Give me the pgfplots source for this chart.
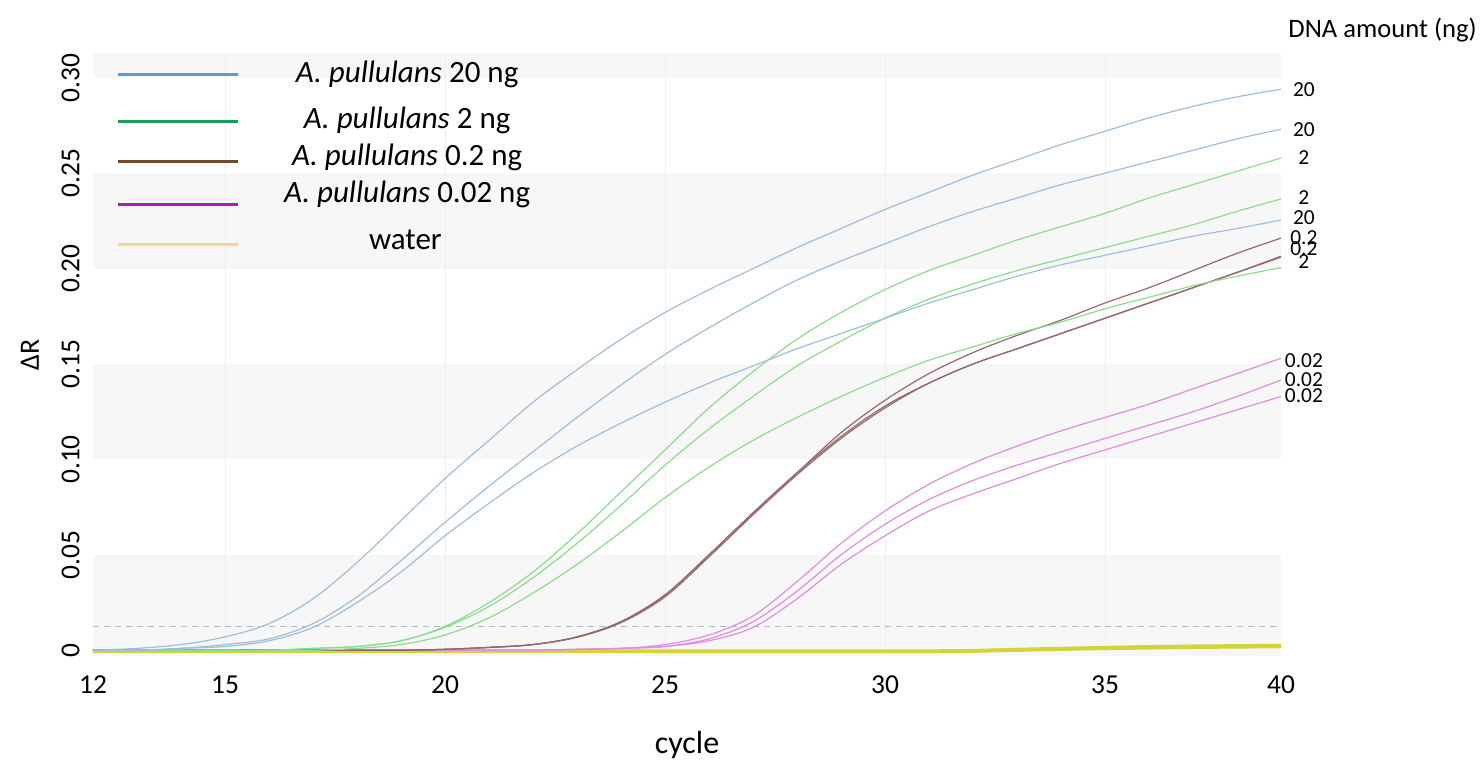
\documentclass[border=0pt]{standalone}
\usepackage{fontspec}
\setmainfont{Carlito}
\usepackage{pgfplots}
\usepackage{pgfplotstable}
\pgfplotsset{compat=1.18}

% qPCR amplification curves, Delta R per cycle, three replicates per DNA amount
\pgfplotstableread{
cycle r1 r2 r3
12 0.000 0.000 0.000
13 0.001 0.000 0.000
14 0.003 0.001 0.001
15 0.007 0.003 0.002
16 0.014 0.006 0.005
17 0.027 0.014 0.012
18 0.046 0.028 0.025
19 0.068 0.047 0.041
20 0.090 0.067 0.060
21 0.110 0.086 0.077
22 0.130 0.104 0.093
23 0.147 0.122 0.107
24 0.163 0.139 0.119
25 0.177 0.155 0.130
26 0.189 0.169 0.140
27 0.200 0.182 0.149
28 0.211 0.194 0.158
29 0.221 0.204 0.166
30 0.231 0.213 0.174
31 0.240 0.222 0.182
32 0.249 0.230 0.189
33 0.257 0.237 0.196
34 0.265 0.244 0.202
35 0.272 0.250 0.207
36 0.279 0.256 0.212
37 0.285 0.262 0.217
38 0.290 0.268 0.221
39 0.294 0.273 0.2255
}\twentyng

\pgfplotstableread{
cycle r1 r2 r3
12 0.000 0.000 0.000
13 0.000 0.000 0.000
14 0.000 0.000 0.000
15 0.000 0.000 0.000
16 0.000 0.000 0.000
17 0.001 0.001 0.000
18 0.002 0.002 0.001
19 0.005 0.005 0.003
20 0.0125 0.012 0.008
21 0.025 0.023 0.017
22 0.041 0.038 0.030
23 0.061 0.056 0.045
24 0.083 0.076 0.062
25 0.105 0.097 0.080
26 0.127 0.116 0.096
27 0.146 0.133 0.110
28 0.163 0.149 0.122
29 0.177 0.162 0.133
30 0.189 0.174 0.143
31 0.199 0.184 0.152
32 0.207 0.192 0.159
33 0.215 0.199 0.166
34 0.222 0.205 0.172
35 0.229 0.211 0.179
36 0.237 0.217 0.185
37 0.244 0.223 0.191
38 0.251 0.230 0.196
39 0.258 0.2365 0.2005
}\twong

\pgfplotstableread{
cycle r1 r2 r3
12 0.000 0.000 0.000
13 0.000 0.000 0.000
14 0.000 0.000 0.000
15 0.000 0.000 0.000
16 0.000 0.000 0.000
17 0.000 0.000 0.000
18 0.000 0.000 0.000
19 0.000 0.000 0.000
20 0.0005 0.0005 0.0005
21 0.0015 0.0015 0.0015
22 0.003 0.003 0.003
23 0.007 0.007 0.0068
24 0.015 0.015 0.0145
25 0.029 0.029 0.028
26 0.050 0.050 0.049
27 0.072 0.072 0.071
28 0.093 0.093 0.092
29 0.114 0.112 0.111
30 0.131 0.128 0.127
31 0.145 0.140 0.140
32 0.156 0.150 0.150
33 0.165 0.158 0.158
34 0.173 0.166 0.166
35 0.182 0.174 0.174
36 0.190 0.182 0.182
37 0.199 0.190 0.190
38 0.208 0.198 0.198
39 0.216 0.206 0.2065
}\pointtwong

\pgfplotstableread{
cycle r1 r2 r3
12 0.000 0.000 0.000
13 0.000 0.000 0.000
14 0.000 0.000 0.000
15 0.000 0.000 0.000
16 0.000 0.000 0.000
17 0.000 0.000 0.000
18 0.000 0.000 0.000
19 0.000 0.000 0.000
20 0.000 0.000 0.000
21 0.000 0.000 0.000
22 0.000 0.000 0.000
23 0.0005 0.0005 0.0005
24 0.001 0.001 0.001
25 0.003 0.002 0.002
26 0.008 0.006 0.005
27 0.018 0.015 0.012
28 0.036 0.031 0.027
29 0.056 0.050 0.045
30 0.073 0.066 0.060
31 0.087 0.079 0.073
32 0.098 0.089 0.082
33 0.107 0.097 0.090
34 0.115 0.104 0.098
35 0.122 0.111 0.105
36 0.129 0.118 0.112
37 0.137 0.125 0.119
38 0.145 0.133 0.126
39 0.153 0.1416 0.133
}\pointzerotwong

\pgfplotstableread{
cycle r1 r2 r3
12 0.0000 -0.0005 -0.0010
16 0.0000 -0.0005 -0.0010
20 0.0000 -0.0005 -0.0010
24 0.0000 -0.0005 -0.0010
28 0.0000 -0.0005 -0.0010
31 0.0000 -0.0005 -0.0010
32 0.0002 -0.0003 -0.0008
33 0.0008 0.0002 -0.0003
34 0.0013 0.0006 0.0002
35 0.0018 0.0010 0.0006
36 0.0022 0.0013 0.0009
37 0.0025 0.0016 0.0012
38 0.0027 0.0018 0.0014
39 0.0029 0.0020 0.0016
}\water

\definecolor{bandgray}{RGB}{247,247,247}
\definecolor{gridgray}{RGB}{238,238,238}
\definecolor{thresh}{RGB}{160,187,214}
\definecolor{cblue}{RGB}{158,190,220}
\definecolor{cgreen}{RGB}{140,220,140}
\definecolor{cbrown}{RGB}{150,105,105}
\definecolor{cmag}{RGB}{225,140,225}
\definecolor{cwater}{RGB}{212,212,55}
\definecolor{lblue}{RGB}{102,152,200}
\definecolor{lgreen}{RGB}{25,160,85}
\definecolor{lbrown}{RGB}{120,72,40}
\definecolor{lmag}{RGB}{170,30,180}
\definecolor{lwater}{RGB}{245,215,140}

\begin{document}
\begin{tikzpicture}
\path[use as bounding box] (-46.5pt,-53pt) rectangle (694.5pt,328pt);
\begin{axis}[
  at={(0,0)}, anchor=south west,
  scale only axis, width=594pt, height=301.5pt,
  xmin=12, xmax=39, ymin=-0.003, ymax=0.313,
  clip=false,
  axis line style={draw=none},
  tick style={draw=none},
  major tick length=0pt,
  xtick={12,15,20,25,30,35,39},
  xticklabels={12,15,20,25,30,35,40},
  ytick={0,0.05,0.10,0.15,0.20,0.25,0.30},
  yticklabels={0,0.05,0.10,0.15,0.20,0.25,0.30},
  tick label style={font=\fontsize{13.7}{16}\selectfont},
  xticklabel style={anchor=base, inner sep=0pt, yshift=-18.5pt},
  yticklabel style={rotate=90, anchor=south, inner sep=6.5pt},
  xlabel={cycle},
  xlabel style={font=\fontsize{16}{19}\selectfont, at={(axis description cs:0.5,0)}, anchor=base, inner sep=0pt, yshift=-48.5pt},
  ylabel={ΔR},
  ylabel style={font=\fontsize{14}{17}\selectfont, at={([xshift=-31.5pt]axis description cs:0,0.5)}, anchor=center, rotate=0},
  every axis plot/.append style={line width=0.6pt, smooth, tension=0.55},
]
% alternating horizontal bands and faint vertical grid
\fill[bandgray] (axis cs:12,-0.003) rectangle (axis cs:39,0.05);
\fill[bandgray] (axis cs:12,0.10) rectangle (axis cs:39,0.15);
\fill[bandgray] (axis cs:12,0.20) rectangle (axis cs:39,0.25);
\fill[bandgray] (axis cs:12,0.30) rectangle (axis cs:39,0.313);
\foreach \g in {15,20,25,30,35} {
  \edef\temp{\noexpand\draw[gridgray, line width=0.5pt] (axis cs:\g,-0.003) -- (axis cs:\g,0.313);}
  \temp
}

% threshold
\addplot[thresh, dash pattern=on 3pt off 2.5pt, line width=0.55pt, sharp plot] coordinates {(12,0.0125) (39,0.0125)};

\addplot[cwater, line width=1pt] table[x=cycle,y=r1]{\water};
\addplot[cwater, line width=1pt] table[x=cycle,y=r2]{\water};
\addplot[cwater, line width=1pt] table[x=cycle,y=r3]{\water};

\addplot[cmag] table[x=cycle,y=r1]{\pointzerotwong};
\addplot[cmag] table[x=cycle,y=r2]{\pointzerotwong};
\addplot[cmag] table[x=cycle,y=r3]{\pointzerotwong};

\addplot[cbrown] table[x=cycle,y=r1]{\pointtwong};
\addplot[cbrown] table[x=cycle,y=r2]{\pointtwong};
\addplot[cbrown] table[x=cycle,y=r3]{\pointtwong};

\addplot[cgreen] table[x=cycle,y=r1]{\twong};
\addplot[cgreen] table[x=cycle,y=r2]{\twong};
\addplot[cgreen] table[x=cycle,y=r3]{\twong};

\addplot[cblue] table[x=cycle,y=r1]{\twentyng};
\addplot[cblue] table[x=cycle,y=r2]{\twentyng};
\addplot[cblue] table[x=cycle,y=r3]{\twentyng};

% DNA amount at the end of each curve
\begin{scope}[every node/.style={font=\fontsize{10.7}{12}\selectfont, inner sep=0pt, anchor=center}]
\node at (axis cs:39.52,0.2940) {20};
\node at (axis cs:39.52,0.2727) {20};
\node at (axis cs:39.52,0.2580) {2};
\node at (axis cs:39.52,0.2375) {2};
\node at (axis cs:39.52,0.2265) {20};
\node at (axis cs:39.52,0.2160) {0.2};
\node at (axis cs:39.52,0.2103) {0.2};
\node at (axis cs:39.52,0.2035) {2};
\node at (axis cs:39.52,0.1520) {0.02};
\node at (axis cs:39.52,0.1416) {0.02};
\node at (axis cs:39.52,0.1337) {0.02};
\end{scope}
\node[anchor=west, inner sep=0pt, font=\fontsize{13.3}{16}\selectfont] at (axis cs:39.16,0.3251) {DNA amount (ng)};

% legend
\begin{scope}[every node/.style={font=\fontsize{15.5}{18}\selectfont, inner sep=0pt, anchor=base}]
\draw[lblue, line width=1.5pt] (axis cs:12.57,0.3015) -- (axis cs:15.30,0.3015);
\node at (axis cs:19.14,0.2973) {\textit{A. pullulans} 20 ng};
\draw[lgreen, line width=1.5pt] (axis cs:12.57,0.2769) -- (axis cs:15.30,0.2769);
\node at (axis cs:19.14,0.2732) {\textit{A. pullulans} 2 ng};
\draw[lbrown, line width=1.5pt] (axis cs:12.57,0.2559) -- (axis cs:15.30,0.2559);
\node at (axis cs:19.14,0.2543) {\textit{A. pullulans} 0.2 ng};
\draw[lmag, line width=1.5pt] (axis cs:12.57,0.2334) -- (axis cs:15.30,0.2334);
\node at (axis cs:19.14,0.2349) {\textit{A. pullulans} 0.02 ng};
\draw[lwater, line width=1.5pt] (axis cs:12.57,0.2129) -- (axis cs:15.30,0.2129);
\node at (axis cs:19.10,0.2098) {water};
\end{scope}
\end{axis}
\end{tikzpicture}
\end{document}
